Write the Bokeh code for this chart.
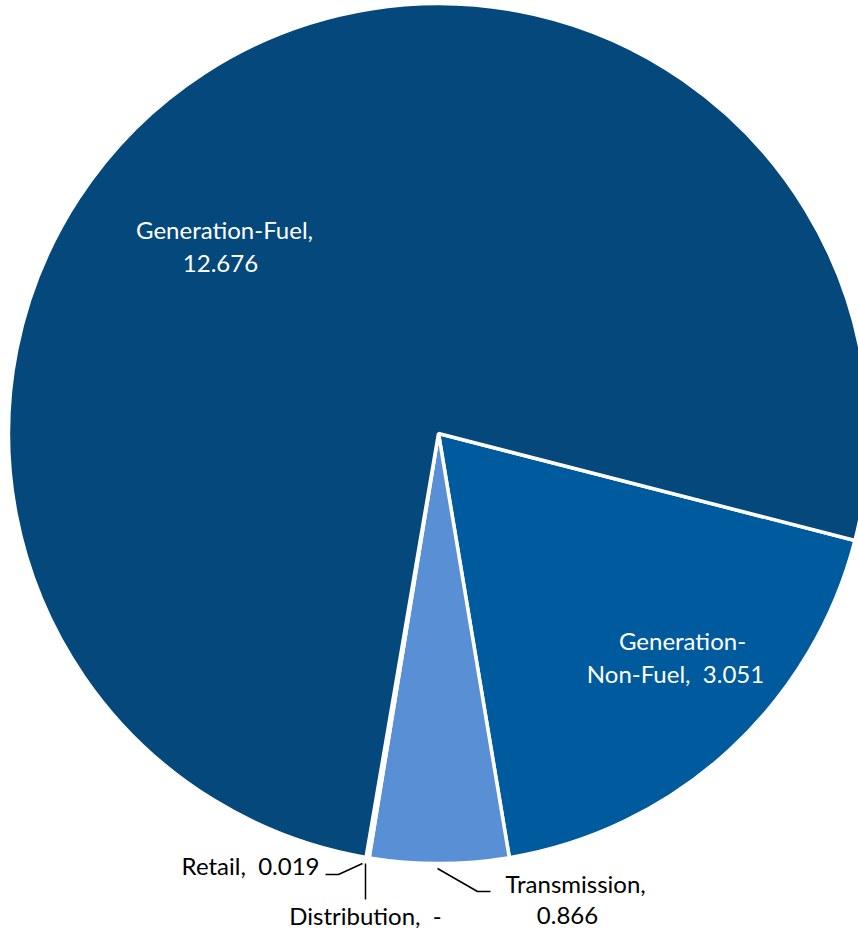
import math
from bokeh.plotting import figure
from bokeh.models import Range1d, ColumnDataSource
from bokeh.core.properties import value
from bokeh.embed import file_html
from bokeh.resources import INLINE

# ---- data ----
categories = ["Generation-Non-Fuel", "Transmission", "Distribution", "Retail", "Generation-Fuel"]
values = [3.051, 0.866, 0.0, 0.019, 12.676]
colors = ["#005A9E", "#588FD5", "#2E75B6", "#8DB4E2", "#04487C"]

W, H = 858, 932
p = figure(width=W, height=H, output_backend="svg", toolbar_location=None,
           x_range=Range1d(0, W), y_range=Range1d(0, H), min_border=0)
p.axis.visible = False
p.grid.visible = False
p.outline_line_color = None
p.background_fill_color = "white"
p.border_fill_color = "white"

cx, cy, R = 438, H - 433, 430
start_cw = 104.4  # degrees clockwise from 12 o'clock where the first slice starts
total = sum(values)
starts, ends, cols, cats = [], [], [], []
acc = start_cw
for v, c, k in zip(values, colors, categories):
    a0 = acc
    a1 = acc + v / total * 360.0
    acc = a1
    if v <= 0:
        continue  # a zero slice draws nothing
    starts.append(math.radians(90 - a0))
    ends.append(math.radians(90 - a1))
    cols.append(c)
    cats.append(k)

src = ColumnDataSource(dict(start=starts, end=ends, color=cols, cat=cats))
p.wedge(x=cx, y=cy, radius=R, start_angle="start", end_angle="end", direction="clock",
        fill_color="color", line_color="white", line_width=3.5, source=src)

font = value("Lato")
fs = "24px"
SP = "\u00a0"

def txt(x, y, s, color, align="center"):
    p.text(x=[x], y=[H - y], text=[s], text_color=color, text_font=font,
           text_font_size=fs, text_align=align, text_baseline="middle")

def fmt(v):
    return "-" if v == 0 else f"{v:.3f}"

# labels
txt(224, 229, "Generation-Fuel,", "white")
txt(220, 263, fmt(values[4]), "white")
txt(682, 640, "Generation-", "white")
txt(675, 673, f"Non-Fuel,{SP}{SP}{fmt(values[0])}", "white")
txt(505, 883, "Transmission,", "black", "left")
txt(567, 915, fmt(values[1]), "black")
txt(319, 865, f"Retail,{SP}{SP}{fmt(values[3])}", "black", "right")
txt(365, 915, f"Distribution,{SP}{SP}{fmt(values[2])}", "black")

# leader lines
p.line(x=[437, 477, 490], y=[H - 868, H - 891, H - 891], line_color="black", line_width=1.5)
p.line(x=[325, 338, 362], y=[H - 874, H - 874, H - 863], line_color="black", line_width=1.5)
p.line(x=[365, 365], y=[H - 863, H - 899], line_color="black", line_width=1.5)

open("out.html", "w").write(file_html(p, INLINE))
